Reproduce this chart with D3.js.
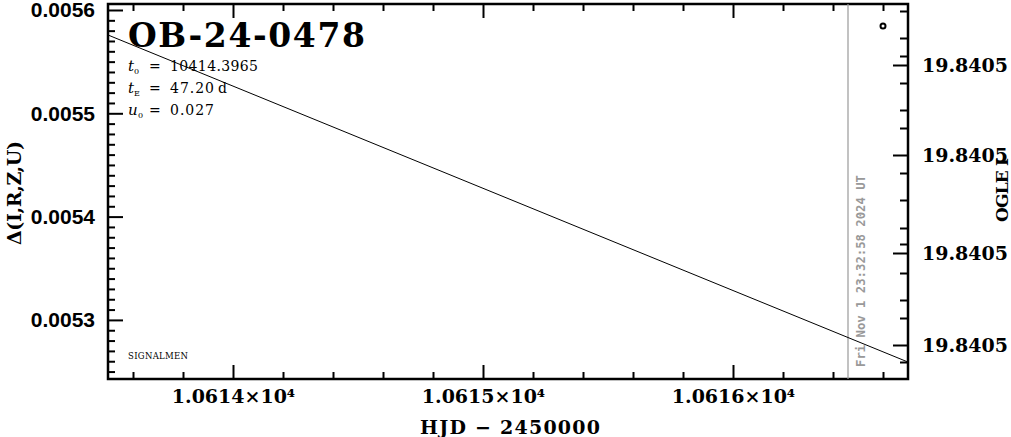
<!DOCTYPE html>
<html><head><meta charset="utf-8">
<script src="https://cdn.jsdelivr.net/npm/d3@7"></script>
<style>body{margin:0;background:#fff}svg{display:block}</style>
</head><body>
<svg id="c" width="1011" height="437"></svg>
<script>
// ---- data ----
const modelHJD = [10613.5, 10615.1, 10616.7];
const modelDelta = [0.0055758, 0.0054175, 0.0052592];
const pointHJD = [10616.6];
const pointDelta = [0.0055845];
const nowHJD = 10616.46;
const nowLabel = "Fri Nov  1 23:32:58 2024 UT";
const xMajor = [10614, 10615, 10616];
const xMinor = [10613.6,10613.8,10614.2,10614.4,10614.6,10614.8,10615.2,10615.4,10615.6,10615.8,10616.2,10616.4,10616.6];
const yMajor = [0.0053, 0.0054, 0.0055, 0.0056];
const yMinor = [0.00525,0.00526,0.00527,0.00528,0.00529,0.00531,0.00532,0.00533,0.00534,0.00535,0.00536,0.00537,0.00538,0.00539,0.00541,0.00542,0.00543,0.00544,0.00545,0.00546,0.00547,0.00548,0.00549,0.00551,0.00552,0.00553,0.00554,0.00555,0.00556,0.00557,0.00558,0.00559];
const magMajor = [19.8405001, 19.8405091, 19.8405189, 19.8405281];
const magMinor = [19.8404947,19.8404974,19.8404992,19.8405019,19.8405046,19.8405064,19.8405109,19.8405136,19.8405164,19.8405180,19.8405209,19.8405236,19.8405254,19.8405298];
const eventName = "OB-24-0478";
const paramT0 = "10414.3965";
const paramTE = "47.20";
const paramU0 = "0.027";

// ---- layout ----
const L = 108, R = 908, T = 4, B = 379;
const svg = d3.select("#c");
const x = d3.scaleLinear().domain([10613.5, 10616.7]).range([L, R]);
const y = d3.scaleLinear().domain([0.0052428, 0.0056058]).range([B, T]);
const ym = d3.scaleLinear().domain([19.840494, 19.840494 + (B - T) * 1e-7]).range([T, B]);

const serif = "'DejaVu Serif', serif";
const sansB = "'Liberation Sans', Arial, sans-serif";

function styleAxis(g, font, size, weight) {
  g.select(".domain").remove();
  g.selectAll(".tick line").attr("stroke", "#000").attr("stroke-width", 2);
  g.selectAll(".tick text").attr("fill", "#000").style("font-family", font)
    .style("font-size", size + "px").style("font-weight", weight);
}

// bottom axis
const supFmt = v => (v / 1e4).toFixed(4) + "×10⁴";
svg.append("g").attr("transform", `translate(0,${B})`)
  .call(d3.axisBottom(x).tickValues(xMajor).tickSize(-14).tickPadding(11).tickFormat(supFmt))
  .call(g => styleAxis(g, serif, 19, "bold"));
svg.append("g").attr("transform", `translate(0,${B})`)
  .call(d3.axisBottom(x).tickValues(xMinor).tickSize(-7).tickFormat(""))
  .call(g => styleAxis(g, serif, 19, "bold"));
// top axis
svg.append("g").attr("transform", `translate(0,${T})`)
  .call(d3.axisTop(x).tickValues(xMajor).tickSize(-14).tickFormat(""))
  .call(g => styleAxis(g, serif, 19, "bold"));
svg.append("g").attr("transform", `translate(0,${T})`)
  .call(d3.axisTop(x).tickValues(xMinor).tickSize(-7).tickFormat(""))
  .call(g => styleAxis(g, serif, 19, "bold"));
// left axis
svg.append("g").attr("transform", `translate(${L},0)`)
  .call(d3.axisLeft(y).tickValues(yMajor).tickSize(-15).tickPadding(13).tickFormat(d3.format(".4f")))
  .call(g => styleAxis(g, sansB, 21, "bold"));
svg.append("g").attr("transform", `translate(${L},0)`)
  .call(d3.axisLeft(y).tickValues(yMinor).tickSize(-7).tickFormat(""))
  .call(g => styleAxis(g, sansB, 21, "bold"));
// right axis
svg.append("g").attr("transform", `translate(${R},0)`)
  .call(d3.axisRight(ym).tickValues(magMajor).tickSize(-15).tickPadding(14).tickFormat(d3.format(".4f")))
  .call(g => styleAxis(g, serif, 19, "bold"));
svg.append("g").attr("transform", `translate(${R},0)`)
  .call(d3.axisRight(ym).tickValues(magMinor).tickSize(-8).tickFormat(""))
  .call(g => styleAxis(g, serif, 19, "bold"));

// frame
svg.append("rect").attr("x", L).attr("y", T).attr("width", R - L).attr("height", B - T)
  .attr("fill", "none").attr("stroke", "#000").attr("stroke-width", 2.5);

// now line
svg.append("line").attr("x1", x(nowHJD)).attr("x2", x(nowHJD)).attr("y1", T).attr("y2", B)
  .attr("stroke", "#999").attr("stroke-width", 1.2);
svg.append("text").attr("transform", `translate(${x(nowHJD) + 17},271) rotate(-90)`)
  .attr("text-anchor", "middle").attr("fill", "#999")
  .style("font-family", "'DejaVu Sans Mono', monospace").style("font-weight", "bold").style("font-size", "13px")
  .attr("textLength", 192).attr("lengthAdjust", "spacingAndGlyphs").text(nowLabel);

// model line
const line = d3.line().x((d, i) => x(modelHJD[i])).y(d => y(d));
svg.append("path").datum(modelDelta).attr("d", line).attr("fill", "none").attr("stroke", "#000").attr("stroke-width", 1);

// point
svg.selectAll("circle.pt").data(pointHJD).join("circle").attr("class", "pt")
  .attr("cx", d => x(d)).attr("cy", (d, i) => y(pointDelta[i])).attr("r", 2.5)
  .attr("fill", "#fff").attr("stroke", "#000").attr("stroke-width", 2);

// title and params
svg.append("text").attr("x", 128).attr("y", 47).style("font-family", serif).style("font-size", "33px")
  .style("font-weight", "bold")
  .attr("textLength", 237).attr("lengthAdjust", "spacing").attr("fill", "#000").text(eventName);

function param(yb, sym, sub, subx, val, unit) {
  const g = svg.append("g").style("font-family", serif).attr("fill", "#000");
  g.append("text").attr("x", 128).attr("y", yb).style("font-size", "15px").style("font-style", "italic").text(sym);
  g.append("text").attr("x", subx).attr("y", yb + 3).style("font-size", "8px").text(sub);
  g.append("text").attr("x", 149).attr("y", yb).style("font-size", "14px").text("=");
  g.append("text").attr("x", 170).attr("y", yb).style("font-size", "14px")
    .attr("textLength", val.length * 8.8).attr("lengthAdjust", "spacing").text(val);
  if (unit) g.append("text").attr("x", 218).attr("y", yb).style("font-size", "14px").text(unit);
}
param(71, "t", "0", 134, paramT0);
param(93, "t", "E", 134, paramTE, "d");
param(115, "u", "0", 138, paramU0);

svg.append("text").attr("x", 128).attr("y", 359).style("font-family", serif).style("font-size", "8.5px")
  .attr("textLength", 60).attr("fill", "#000").text("SIGNALMEN");

// axis titles
svg.append("text").attr("x", (L + R) / 2 + 2).attr("y", 434).attr("text-anchor", "middle")
  .style("font-family", serif).style("font-size", "19px").style("font-weight", "bold")
  .attr("textLength", 180).text("HJD − 2450000");
svg.append("text").attr("transform", "translate(21,193) rotate(-90)").attr("text-anchor", "middle")
  .style("font-family", serif).style("font-size", "19px").style("font-weight", "bold")
  .attr("textLength", 104).text("Δ(I,R,Z,U)");
svg.append("text").attr("transform", "translate(1008,190) rotate(-90)").attr("text-anchor", "middle")
  .style("font-family", serif).style("font-size", "17px").style("font-weight", "bold")
  .attr("textLength", 64).text("OGLE I");
</script>
</body></html>
